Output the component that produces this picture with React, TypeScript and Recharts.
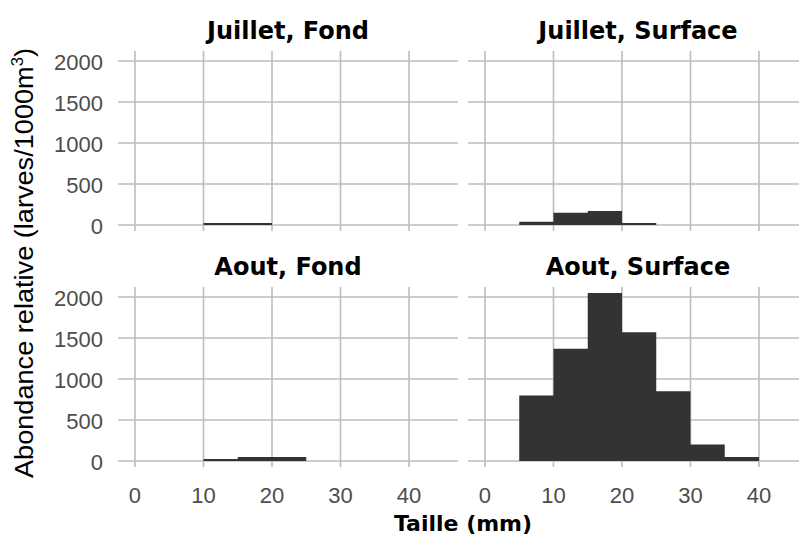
import React from 'react';
import { ComposedChart, Area, XAxis, YAxis, CartesianGrid } from 'recharts';

// Histogram bins (start of each 5 mm bin)
const binStarts = [0, 5, 10, 15, 20, 25, 30, 35, 40];
const binWidth = 5;

// Relative abundance (larves/1000m3) per bin
const juilletFond = [0, 0, 25, 25, 0, 0, 0, 0, 0];
const juilletSurface = [0, 40, 150, 170, 25, 0, 0, 0, 0];
const aoutFond = [0, 0, 25, 50, 50, 0, 0, 0, 0];
const aoutSurface = [0, 800, 1370, 2050, 1570, 850, 200, 50, 0];

const xTicks = [0, 10, 20, 30, 40];
const yTicks = [0, 500, 1000, 1500, 2000];

const panelTitles = ['Juillet, Fond', 'Juillet, Surface', 'Aout, Fond', 'Aout, Surface'];
const xLabel = 'Taille (mm)';
const yLabelMain = 'Abondance relative (larves/1000m';
const yLabelSup = '3';

const LEFT_X_DOMAIN: [number, number] = [-2.48, 47.15];
const RIGHT_X_DOMAIN: [number, number] = [-2.48, 45.84];
const Y_DOMAIN: [number, number] = [-73, 2122];

const buildSteps = (values: number[]) => {
  const pts = binStarts.map((s, i) => ({ x: s, y: values[i] }));
  pts.push({ x: binStarts[binStarts.length - 1] + binWidth, y: 0 });
  return pts;
};

const GRID = '#bdbdbd';
const BAR = '#333333';
const tickStyle = { fontFamily: 'Liberation Sans', fontSize: 22, fill: '#4d4d4d' };

type PanelProps = {
  values: number[];
  left: number;
  width: number;
  height: number;
  top: number;
  bottom: number;
  showY: boolean;
  showX: boolean;
  xDomain: [number, number];
};

const Panel = ({ values, left, width, height, top, bottom, showY, showX, xDomain }: PanelProps) => (
  <div style={{ position: 'absolute', left, top: 0 }}>
    <ComposedChart
      width={width}
      height={height}
      data={buildSteps(values)}
      margin={{ top, right: 0, bottom, left: 0 }}
    >
      <CartesianGrid stroke={GRID} strokeWidth={1.6} syncWithTicks />
      <XAxis
        type="number"
        dataKey="x"
        domain={xDomain}
        ticks={xTicks}
        allowDataOverflow
        hide={!showX}
        height={30}
        axisLine={false}
        tickLine={false}
        tickSize={0}
        tickMargin={20}
        tick={tickStyle}
        interval={0}
      />
      <YAxis
        type="number"
        domain={Y_DOMAIN}
        ticks={yTicks}
        allowDataOverflow
        hide={!showY}
        width={118}
        axisLine={false}
        tickLine={false}
        tickSize={0}
        tickMargin={15}
        tick={{ ...tickStyle, dy: 1 }}
        interval={0}
      />
      <Area
        type="stepAfter"
        dataKey="y"
        stroke="none"
        fill={BAR}
        fillOpacity={1}
        baseValue={0}
        isAnimationActive={false}
        dot={false}
        activeDot={false}
      />
    </ComposedChart>
  </div>
);

export default function App() {
  const titleStyle: React.CSSProperties = {
    fontFamily: 'DejaVu Sans',
    fontWeight: 'bold',
    fontSize: 24,
  };
  return (
    <div
      style={{
        position: 'absolute',
        left: 0,
        top: 0,
        width: 799,
        height: 539,
        overflow: 'hidden',
        background: '#ffffff',
      }}
    >
      <Panel values={juilletFond} left={0} width={458} height={245} top={51} bottom={14} showY showX={false} xDomain={LEFT_X_DOMAIN} />
      <Panel values={juilletSurface} left={468} width={331} height={245} top={51} bottom={14} showY={false} showX={false} xDomain={RIGHT_X_DOMAIN} />
      <Panel values={aoutFond} left={0} width={458} height={539} top={287} bottom={42} showY showX xDomain={LEFT_X_DOMAIN} />
      <Panel values={aoutSurface} left={468} width={331} height={539} top={287} bottom={42} showY={false} showX xDomain={RIGHT_X_DOMAIN} />
      <svg width={799} height={539} style={{ position: 'absolute', left: 0, top: 0, pointerEvents: 'none' }}>
        <text x={288} y={39} textAnchor="middle" style={titleStyle}>{panelTitles[0]}</text>
        <text x={638} y={39} textAnchor="middle" style={titleStyle}>{panelTitles[1]}</text>
        <text x={288} y={275} textAnchor="middle" style={titleStyle}>{panelTitles[2]}</text>
        <text x={638} y={275} textAnchor="middle" style={titleStyle}>{panelTitles[3]}</text>
        <text
          x={463}
          y={531}
          textAnchor="middle"
          style={{ fontFamily: 'DejaVu Sans', fontWeight: 'bold', fontSize: 22 }}
        >
          {xLabel}
        </text>
        <text
          x={33}
          y={263}
          textAnchor="middle"
          transform="rotate(-90 33 263)"
          textLength={430}
          lengthAdjust="spacingAndGlyphs"
          style={{ fontFamily: 'Liberation Sans', fontSize: 26, fill: '#000' }}
        >
          {yLabelMain}
          <tspan dy={-10} fontSize={16}>{yLabelSup}</tspan>
          <tspan dy={10}>)</tspan>
        </text>
      </svg>
    </div>
  );
}
